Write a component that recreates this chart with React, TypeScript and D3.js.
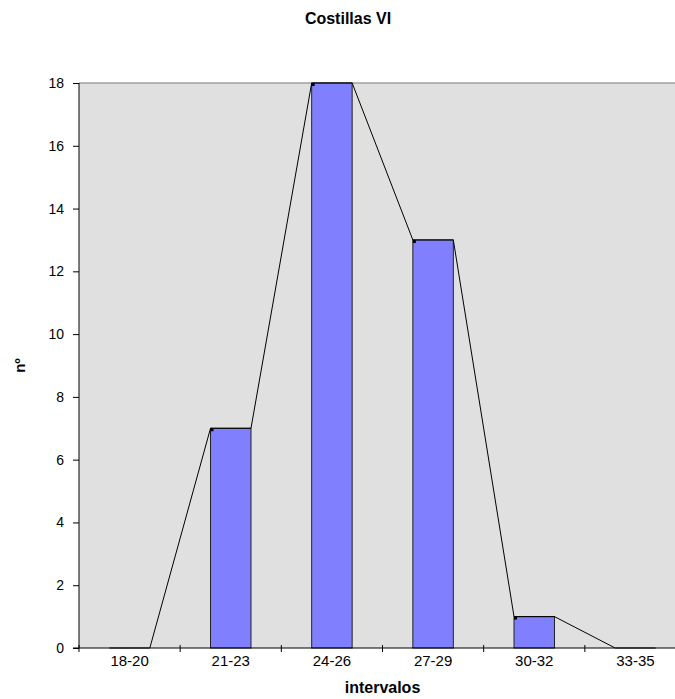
import { useEffect, useRef } from "react";
import * as d3 from "d3";

const categories = ["18-20", "21-23", "24-26", "27-29", "30-32", "33-35"];
const counts = [0, 7, 18, 13, 1, 0];
const yTicks = [0, 2, 4, 6, 8, 10, 12, 14, 16, 18];

const W = 675;
const H = 699;

export default function App() {
  const svgRef = useRef<SVGSVGElement>(null);

  useEffect(() => {
    if (!svgRef.current) return;
    const svg = d3.select(svgRef.current);
    svg.selectAll("*").remove();

    const left = 79;
    const right = 686;
    const top = 83;
    const bottom = 648;
    const font = "Liberation Sans, Arial, sans-serif";

    const x = d3.scaleBand<string>().domain(categories).range([left, right]);
    const y = d3.scaleLinear().domain([0, 18]).range([bottom, top]);
    const barW = x.bandwidth() * 0.4;

    // plot area
    svg
      .append("rect")
      .attr("x", left)
      .attr("y", top)
      .attr("width", right - left)
      .attr("height", bottom - top)
      .attr("fill", "#e0e0e0");

    svg
      .append("line")
      .attr("x1", left)
      .attr("x2", right)
      .attr("y1", y(18))
      .attr("y2", y(18))
      .attr("stroke", "#a0a0a0")
      .attr("stroke-width", 1.5);

    // bars
    const bx = (c: string) => (x(c) ?? 0) + x.bandwidth() / 2 - barW / 2;
    const nonZero = categories.map((c, i) => ({ c, v: counts[i] })).filter((d) => d.v > 0);
    svg
      .append("g")
      .selectAll("rect")
      .data(nonZero)
      .enter()
      .append("rect")
      .attr("x", (d) => bx(d.c))
      .attr("y", (d) => y(d.v))
      .attr("width", barW)
      .attr("height", (d) => bottom - y(d.v))
      .attr("fill", "#8080ff")
      .attr("stroke", "#222")
      .attr("stroke-width", 1);

    // polygon through bar corners
    const pts: [number, number][] = [];
    categories.forEach((c, i) => {
      pts.push([bx(c), y(counts[i])]);
      pts.push([bx(c) + barW, y(counts[i])]);
    });
    svg
      .append("path")
      .attr("d", d3.line()(pts))
      .attr("fill", "none")
      .attr("stroke", "#000")
      .attr("stroke-width", 1);

    // small markers at top-left corners
    svg
      .append("g")
      .selectAll("rect")
      .data(nonZero)
      .enter()
      .append("rect")
      .attr("x", (d) => bx(d.c))
      .attr("y", (d) => y(d.v))
      .attr("width", 3)
      .attr("height", 3)
      .attr("fill", "#000");

    // y axis
    const yAxis = svg
      .append("g")
      .attr("transform", `translate(${left},0)`)
      .call(d3.axisLeft(y).tickValues(yTicks).tickSize(6).tickPadding(9));
    yAxis.select(".domain").attr("stroke", "#000").attr("d", `M0,${top}V${bottom}`);
    yAxis.selectAll("text").attr("font-family", font).attr("font-size", 14).attr("fill", "#000");

    // x axis
    const xAxis = svg
      .append("g")
      .attr("transform", `translate(0,${bottom})`)
      .call(d3.axisBottom(x).tickSize(0).tickPadding(7));
    xAxis.select(".domain").attr("stroke", "#000").attr("d", `M${left - 6},0H${right}`);
    xAxis.selectAll("text").attr("font-family", font).attr("font-size", 15).attr("fill", "#000");
    xAxis
      .selectAll(".sep")
      .data(categories)
      .enter()
      .append("line")
      .attr("x1", (c) => x(c) ?? 0)
      .attr("x2", (c) => x(c) ?? 0)
      .attr("y1", -3)
      .attr("y2", 4)
      .attr("stroke", "#000");

    // titles
    svg
      .append("text")
      .attr("x", 348)
      .attr("y", 24)
      .attr("text-anchor", "middle")
      .attr("font-family", font)
      .attr("font-size", 16)
      .attr("font-weight", "bold")
      .text("Costillas VI");

    svg
      .append("text")
      .attr("x", (left + right) / 2)
      .attr("y", 693)
      .attr("text-anchor", "middle")
      .attr("font-family", font)
      .attr("font-size", 16)
      .attr("font-weight", "bold")
      .text("intervalos");

    svg
      .append("text")
      .attr("transform", `translate(25,${(top + bottom) / 2}) rotate(-90)`)
      .attr("text-anchor", "middle")
      .attr("font-family", font)
      .attr("font-size", 15)
      .attr("font-weight", "bold")
      .text("nº");
  }, []);

  return (
    <svg
      ref={svgRef}
      width={W}
      height={H}
      style={{ position: "absolute", left: 0, top: 0, background: "#fff" }}
    />
  );
}
